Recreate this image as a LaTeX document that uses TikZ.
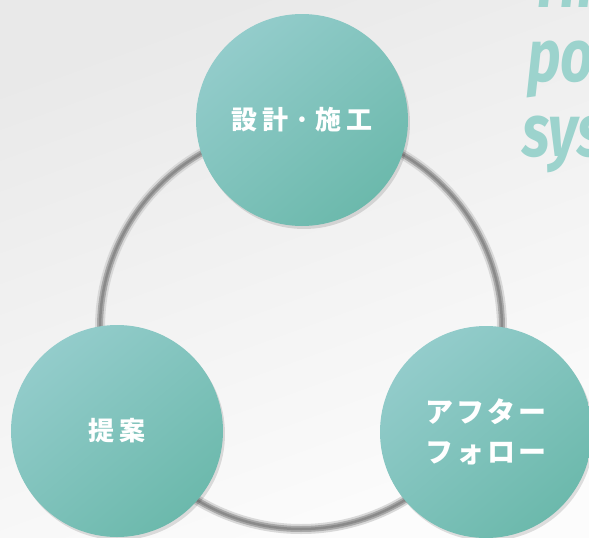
\documentclass[tikz,border=0pt]{standalone}
\usepackage{fontspec}
\setmainfont{Fira Sans}
\newfontfamily\jp[LetterSpace=20]{Noto Sans CJK JP}
\newfontfamily\jpk[LetterSpace=10]{Noto Sans CJK JP}
\usetikzlibrary{shadows}
\definecolor{bgA}{HTML}{E9E9E9}
\definecolor{bgB}{HTML}{FCFCFC}
\definecolor{tealA}{HTML}{93CCCB}
\definecolor{tealB}{HTML}{6CB9AC}
\definecolor{ringA}{HTML}{D8D8D8}
\definecolor{ringB}{HTML}{A8A8A8}
\definecolor{ringC}{HTML}{8A8A8A}
\definecolor{titleC}{HTML}{9CD3CD}
\tikzset{
  bubble/.style={circle, minimum size=212pt, inner sep=0pt,
    top color=tealA, bottom color=tealB, shading angle=40,
    text=white, font=\jp\bfseries\fontsize{26}{31}\selectfont, align=center,
    drop shadow={shadow xshift=2pt, shadow yshift=-3pt, opacity=0.12, fill=black}},
  title/.style={anchor=base west, inner sep=0pt, text=titleC,
    font=\mdseries\itshape\fontsize{74}{74}\selectfont}
}
\begin{document}
\begin{tikzpicture}[x=1pt,y=-1pt]
\useasboundingbox (0,0) rectangle (589,538);
\clip (0,0) rectangle (589,538);
\shade[top color=bgA, bottom color=bgB, shading angle=20] (0,0) rectangle (589,538);
% ring
\coordinate (rc) at (301,328);
\draw[ringA, line width=10pt] (rc) circle[radius=201];
\draw[ringB, line width=6pt] (rc) circle[radius=201];
\draw[ringC, line width=2.5pt] (rc) circle[radius=201];
% title fragments
\node[title] (t1) at (530,8) {\scalebox{0.78}[1]{\fontseries{sb}\selectfont Th}};
\node[title] (t2) at (527,81) {\scalebox{0.78}[1]{\fontseries{sb}\selectfont po}};
\node[title] (t3) at (522,156) {\scalebox{0.78}[1]{\fontseries{sb}\selectfont sys}};
% bubbles
\node[bubble] (design) at (302,120) {設計·施工};
\node[bubble] (propose) at (117,431) {提案};
\node[bubble, font=\jpk\bfseries\fontsize{28}{40}\selectfont] (after) at (486,432) {アフター\\フォロー};
\end{tikzpicture}
\end{document}
